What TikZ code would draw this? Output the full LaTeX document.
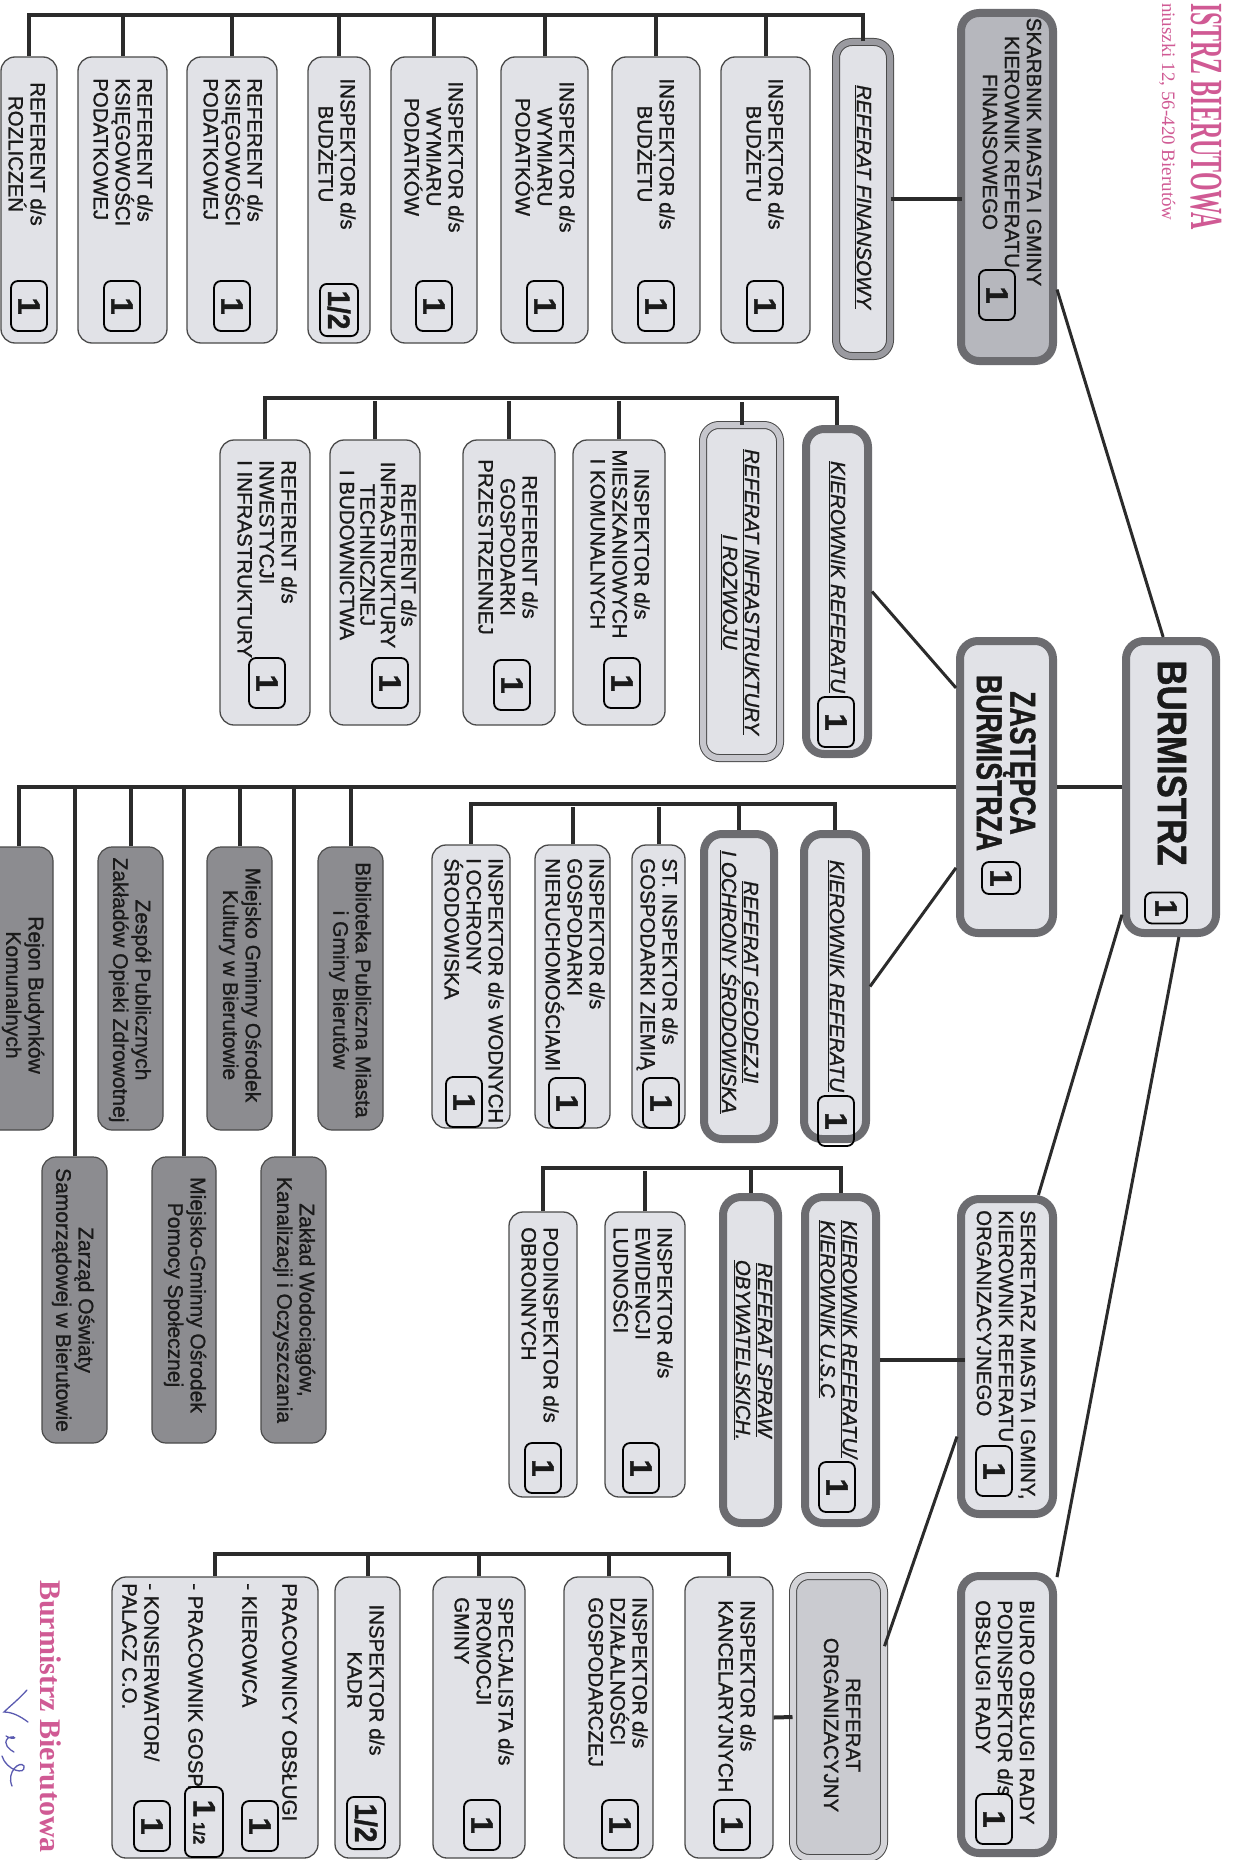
\documentclass[tikz,border=0pt]{standalone}
\usepackage{fontspec}
\setmainfont{Liberation Sans}[FakeBold=1.2]
\newfontfamily\pinkserif{Liberation Serif}
\definecolor{lightfill}{HTML}{E1E2E7}
\definecolor{midfill}{HTML}{B6B7BD}
\definecolor{bandc}{HTML}{6C6C70}
\definecolor{bordc}{HTML}{4A4A4A}
\definecolor{midband}{HTML}{9A9AA0}
\definecolor{lightband}{HTML}{C6C6CC}
\definecolor{orgband}{HTML}{D4D4D8}
\definecolor{orgfill}{HTML}{CACBD0}
\definecolor{grayfill}{HTML}{8C8C90}
\definecolor{linec}{HTML}{2B2B2B}
\definecolor{textc}{HTML}{1A1A1A}
\definecolor{pinkc}{HTML}{D05A94}
\definecolor{sigc}{HTML}{5A5AB0}
\newcommand\boxat[7]{%
  \pgfmathsetmacro\bxw{#6-#4-2*#3}%
  \pgfmathsetmacro\bxh{#7-#5-2*#3}%
  \pgfmathsetmacro\bxx{(#4+#6)/2}%
  \pgfmathsetmacro\bxy{(#5+#7)/2}%
  \node[#2, minimum width=\bxw pt, minimum height=\bxh pt] (#1) at (\bxx,\bxy) {};}
\newcommand\bdg[4][1]{\node[badge] (#2) at (#3,#4) {#1};}
\tikzset{
  lbox/.style={draw=bordc, line width=1.3pt, fill=lightfill, rounded corners=14pt, inner sep=0pt},
  tbox/.style={draw=bandc, line width=8pt, fill=lightfill, rounded corners=18pt, inner sep=0pt},
  dbox/.style={draw=bordc, line width=1pt, double=#1, double distance=6pt, fill=lightfill, rounded corners=16pt, inner sep=0pt},
  gbox/.style={draw=bordc, line width=1.2pt, fill=grayfill, rounded corners=14pt, inner sep=0pt},
  txt/.style={inner sep=0pt, text=textc, font=\fontsize{20.5}{22}\selectfont},
  itxt/.style={inner sep=0pt, text=textc, font=\fontsize{20.5}{22}\selectfont\itshape},
  gtxt/.style={inner sep=0pt, text=textc, align=center, font=\fontsize{21}{22.5}\selectfont},
  badge/.style={draw=black, line width=1.8pt, rounded corners=7pt, minimum width=50pt, minimum height=36pt, inner sep=0pt, text=textc, font=\fontsize{31}{31}\selectfont\bfseries},
  conn/.style={draw=linec, line width=4pt},
  diag/.style={draw=linec, line width=3pt},
}
\begin{document}
\begin{tikzpicture}[rotate=-90, transform shape, x=1pt, y=1pt]
\useasboundingbox (0,0) rectangle (1860,1234);
\fill[white] (0,0) rectangle (1860,1234);

% ---------- header and stamp ----------
\node[anchor=base west, inner sep=0, xscale=0.52, text=pinkc, font=\pinkserif\bfseries\fontsize{46}{46}\selectfont] (hdr) at (3,1191) {ISTRZ BIERUTOWA};
\node[anchor=base west, inner sep=0, text=pinkc, font=\pinkserif\fontsize{19}{19}\selectfont] (addr) at (3,1162) {niuszki 12, 56-420 Bierutów};
\node[anchor=base west, inner sep=0, text=pinkc, font=\pinkserif\bfseries\fontsize{30}{30}\selectfont] (stamp) at (1580,40) {Burmistrz Bierutowa};
\draw[sigc, line width=1.3pt, line cap=round] (1690,27) .. controls (1700,18) and (1706,10) .. (1712,4) .. controls (1712,12) and (1716,20) .. (1722,28);
\draw[sigc, line width=1.3pt, line cap=round] (1736,6) .. controls (1742,16) and (1734,18) .. (1738,8) .. controls (1744,2) and (1750,10) .. (1752,14);
\draw[sigc, line width=1.3pt, line cap=round] (1756,2) .. controls (1770,6) and (1776,26) .. (1766,24) .. controls (1760,20) and (1772,6) .. (1786,12);

% ---------- top level ----------
\boxat{burm}{tbox}{4}{637}{1122}{937}{1220}
\node[inner sep=0, text=textc, xscale=0.85, font=\fontsize{41}{41}\selectfont\bfseries] (burm-t) at (763,1172) {BURMISTRZ};
\node[badge, minimum width=31pt, minimum height=42pt] (burm-n) at (908,1166) {1};

\boxat{zast}{tbox}{4}{637}{956}{937}{1057}
\node[inner sep=0, text=textc, align=center, xscale=0.74, font=\fontsize{36}{28}\selectfont\bfseries] (zast-t) at (763,1006) {ZASTĘPCA\\BURMISTRZA};
\node[badge, minimum width=32pt, minimum height=38pt] (zast-n) at (878,1001) {1};

% ---------- finance ----------
\boxat{skarb}{tbox, fill=midfill}{4}{9}{957}{365}{1057}
\node[txt, align=center] (skarb-t) at (152,1012) {SKARBNIK MIASTA I GMINY\\KIEROWNIK REFERATU\\FINANSOWEGO};
\bdg{skarb-n}{295}{997}

\boxat{reffin}{dbox=midband}{0}{42}{836}{356}{890}
\node[itxt] (reffin-t) at (197,863) {\underline{REFERAT FINANSOWY}};

\boxat{roz}{lbox}{0}{57}{1}{343}{57}
\node[txt, align=center] (roz-t) at (154,27) {REFERENT d/s\\ROZLICZEŃ};
\bdg{roz-n}{306}{29}
\boxat{ksi1}{lbox}{0}{57}{78}{343}{167}
\node[txt, align=left, anchor=west] (ksi1-t) at (78,123) {REFERENT d/s\\KSIĘGOWOŚCI\\PODATKOWEJ};
\bdg{ksi1-n}{306}{122}
\boxat{ksi2}{lbox}{0}{57}{187}{343}{277}
\node[txt, align=left, anchor=west] (ksi2-t) at (78,233) {REFERENT d/s\\KSIĘGOWOŚCI\\PODATKOWEJ};
\bdg{ksi2-n}{306}{232}
\boxat{bud1}{lbox}{0}{57}{308}{343}{370}
\node[txt, align=center] (bud1-t) at (154,337) {INSPEKTOR d/s\\BUDŻETU};
\node[badge, minimum width=58pt, minimum height=38pt, xscale=0.9] (bud1-n) at (310,339) {1/2};
\boxat{wym1}{lbox}{0}{57}{391}{343}{477}
\node[txt, align=center] (wym1-t) at (157,434) {INSPEKTOR d/s\\WYMIARU\\PODATKÓW};
\bdg{wym1-n}{306}{434}
\boxat{wym2}{lbox}{0}{57}{501}{343}{588}
\node[txt, align=center] (wym2-t) at (157,545) {INSPEKTOR d/s\\WYMIARU\\PODATKÓW};
\bdg{wym2-n}{306}{545}
\boxat{bud2}{lbox}{0}{57}{612}{343}{700}
\node[txt, align=center] (bud2-t) at (154,656) {INSPEKTOR d/s\\BUDŻETU};
\bdg{bud2-n}{306}{656}
\boxat{bud3}{lbox}{0}{57}{721}{343}{810}
\node[txt, align=center] (bud3-t) at (154,765) {INSPEKTOR d/s\\BUDŻETU};
\bdg{bud3-n}{306}{765}

% ---------- infrastructure ----------
\boxat{kirinf}{tbox}{4}{425}{802}{758}{872}
\node[itxt] (kirinf-t) at (577,837) {\underline{KIEROWNIK REFERATU}};
\bdg{kirinf-n}{722}{836}
\boxat{refinfra}{dbox=lightband}{0}{425}{703}{758}{780}
\node[itxt, align=center] (refinfra-t) at (592,740) {\underline{REFERAT INFRASTRUKTURY}\\\underline{I ROZWOJU}};
\boxat{mie}{lbox}{0}{440}{573}{725}{665}
\node[txt, align=center] (mie-t) at (544,620) {INSPEKTOR d/s\\MIESZKANIOWYCH\\I KOMUNALNYCH};
\bdg{mie-n}{683}{622}
\boxat{prz}{lbox}{0}{440}{463}{725}{555}
\node[txt, align=center] (prz-t) at (547,508) {REFERENT d/s\\GOSPODARKI\\PRZESTRZENNEJ};
\bdg{prz-n}{685}{512}
\boxat{bdw}{lbox}{0}{440}{330}{725}{420}
\node[txt, align=center, font=\fontsize{20.5}{20.5}\selectfont] (bdw-t) at (555,378) {REFERENT d/s\\INFRASTRUKTURY\\TECHNICZNEJ\\I BUDOWNICTWA};
\bdg{bdw-n}{683}{390}
\boxat{inw}{lbox}{0}{440}{220}{725}{310}
\node[txt, align=left, anchor=west] (inw-t) at (460,267) {REFERENT d/s\\INWESTYCJI\\I INFRASTRUKTURY};
\bdg{inw-n}{683}{267}

% ---------- geodesy ----------
\boxat{kirgeo}{tbox}{4}{830}{800}{1143}{870}
\node[itxt] (kirgeo-t) at (976,836) {\underline{KIEROWNIK REFERATU}};
\bdg{kirgeo-n}{1121}{836}
\boxat{refgeo}{tbox}{4}{830}{700}{1143}{778}
\node[itxt, align=center] (refgeo-t) at (982,739) {\underline{REFERAT GEODEZJI}\\\underline{I OCHRONY ŚRODOWISKA}};
\boxat{zie}{lbox}{0}{845}{632}{1128}{685}
\node[txt, align=left, anchor=west] (zie-t) at (858,657) {ST. INSPEKTOR d/s\\GOSPODARKI ZIEMIĄ};
\bdg{zie-n}{1103}{661}
\boxat{nie}{lbox}{0}{845}{535}{1128}{610}
\node[txt, align=left, anchor=west] (nie-t) at (858,575) {INSPEKTOR d/s\\GOSPODARKI\\NIERUCHOMOŚCIAMI};
\bdg{nie-n}{1103}{567}
\boxat{wod}{lbox}{0}{845}{432}{1128}{510}
\node[txt, align=left, anchor=west] (wod-t) at (858,474) {INSPEKTOR d/s WODNYCH\\I OCHRONY\\ŚRODOWISKA};
\bdg{wod-n}{1102}{464}

% ---------- institutions ----------
\boxat{bib}{gbox}{0}{847}{318}{1130}{383}
\node[gtxt] (bib-t) at (990,350) {Biblioteka Publiczna Miasta\\i Gminy Bierutów};
\boxat{kul}{gbox}{0}{847}{207}{1130}{272}
\node[gtxt] (kul-t) at (985,240) {Miejsko Gminny Ośrodek\\Kultury w Bierutowie};
\boxat{zes}{gbox}{0}{847}{98}{1130}{163}
\node[gtxt] (zes-t) at (990,130) {Zespół Publicznych\\Zakładów Opieki Zdrowotnej};
\boxat{rej}{gbox}{0}{847}{-15}{1130}{53}
\node[gtxt] (rej-t) at (995,23) {Rejon Budynków\\Komunalnych};
\boxat{zak}{gbox}{0}{1157}{261}{1443}{326}
\node[gtxt] (zak-t) at (1300,294) {Zakład Wodociągów,\\Kanalizacji i Oczyszczania};
\boxat{pom}{gbox}{0}{1157}{152}{1443}{216}
\node[gtxt] (pom-t) at (1295,185) {Miejsko-Gminny Ośrodek\\Pomocy Społecznej};
\boxat{zar}{gbox}{0}{1157}{42}{1443}{107}
\node[gtxt] (zar-t) at (1300,73) {Zarząd Oświaty\\Samorządowej w Bierutowie};

% ---------- secretary ----------
\boxat{sek}{tbox}{4}{1195}{957}{1518}{1057}
\node[txt, align=left, anchor=west] (sek-t) at (1210,1006) {SEKRETARZ MIASTA I GMINY,\\KIEROWNIK REFERATU\\ORGANIZACYJNEGO};
\bdg{sek-n}{1471}{994}
\boxat{usc}{tbox}{4}{1193}{801}{1527}{880}
\node[itxt, align=left, anchor=west] (usc-t) at (1220,838) {\underline{KIEROWNIK REFERATU/}\\\underline{KIEROWNIK U.S.C}};
\bdg{usc-n}{1487}{837}
\boxat{spraw}{tbox}{4}{1193}{719}{1527}{782}
\node[itxt, align=center] (spraw-t) at (1350,753) {\underline{REFERAT SPRAW}\\\underline{OBYWATELSKICH.}};
\boxat{ewi}{lbox}{0}{1212}{605}{1497}{685}
\node[txt, align=left, anchor=west] (ewi-t) at (1227,643) {INSPEKTOR d/s\\EWIDENCJI\\LUDNOŚCI};
\bdg{ewi-n}{1468}{641}
\boxat{obr}{lbox}{0}{1212}{509}{1497}{577}
\node[txt, align=left, anchor=west] (obr-t) at (1227,540) {PODINSPEKTOR d/s\\OBRONNYCH};
\bdg{obr-n}{1468}{543}

% ---------- council office ----------
\boxat{biuro}{tbox}{4}{1572}{957}{1857}{1057}
\node[txt, align=left, anchor=west] (biuro-t) at (1600,1005) {BIURO OBSŁUGI RADY\\PODINSPEKTOR d/s\\OBSŁUGI RADY};
\bdg{biuro-n}{1819}{994}

% ---------- organisation ----------
\boxat{reforg}{dbox=orgband, fill=orgfill}{0}{1576}{793}{1858}{884}
\node[txt, align=center] (reforg-t) at (1725,842) {REFERAT\\ORGANIZACYJNY};
\boxat{kanc}{lbox}{0}{1577}{685}{1858}{773}
\node[txt, align=left, anchor=west] (kanc-t) at (1600,737) {INSPEKTOR d/s\\KANCELARYJNYCH};
\bdg{kanc-n}{1825}{732}
\boxat{gosp}{lbox}{0}{1577}{564}{1858}{653}
\node[txt, align=left, anchor=west] (gosp-t) at (1597,618) {INSPEKTOR d/s\\DZIAŁALNOŚCI\\GOSPODARCZEJ};
\bdg{gosp-n}{1825}{620}
\boxat{prom}{lbox}{0}{1577}{433}{1858}{525}
\node[txt, align=left, anchor=west] (prom-t) at (1597,484) {SPECJALISTA d/s\\PROMOCJI\\GMINY};
\bdg{prom-n}{1825}{482}
\boxat{kadr}{lbox}{0}{1577}{335}{1858}{400}
\node[txt, align=center] (kadr-t) at (1680,366) {INSPEKTOR d/s\\KADR};
\node[badge, minimum width=58pt, minimum height=38pt, xscale=0.9] (kadr-n) at (1823,366) {1/2};
\boxat{prac}{lbox}{0}{1577}{112}{1858}{318}
\node[txt, align=left, anchor=north west] (prac-t) at (1583,297) {PRACOWNICY OBSŁUGI\\[18pt]- KIEROWCA\\[32pt]- PRACOWNIK GOSP.\\[22pt]- KONSERWATOR/\\PALACZ C.O.};
\bdg{prac-n1}{1826}{260}
\node[badge, minimum width=70pt, minimum height=38pt] (prac-n2) at (1822,204) {1\,{\fontsize{16}{16}\selectfont 1/2}};
\bdg{prac-n3}{1826}{152}

% ---------- connectors ----------
\draw[conn] (burm.south) -- (zast.north);
\draw[diag] (burm.183) -- (skarb.26);
\draw[diag] (burm.339) -- (sek.169);
\draw[diag] (burm.3) -- (biuro.160);
\draw[diag] (zast.207) -- (kirinf.north);
\draw[diag] (zast.328) -- (kirgeo.north);
\draw[diag] (sek.328) -- (reforg.147);

\draw[conn] (reffin.north) -- ++(0,71);
\draw[conn] (reffin.west) -- ++(-26,0) |- (roz.west);
\foreach \n in {ksi1,ksi2,bud1,wym1,wym2,bud2,bud3} \draw[conn] (\n.west) -- ++(-41,0);

\draw[conn] (kirinf.west) -- ++(-27,0) |- (inw.west);
\draw[conn] (refinfra.west) -- ++(-23,0);
\foreach \n in {bdw,prz,mie} \draw[conn] (\n.west) -- ++(-38,0);

\draw[conn] (kirgeo.west) -- ++(-26,0) |- (wod.west);
\draw[conn] (refgeo.west) -- ++(-26,0);
\foreach \n in {nie,zie} \draw[conn] (\n.west) -- ++(-37,0);

\draw[conn] (zast.south) |- (rej.west);
\foreach \n in {bib,kul,zes} \draw[conn] (\n.west) -- ++(-60,0);
\foreach \n in {zak,pom,zar} \draw[conn] (\n.west) -- ++(-370,0);

\draw[conn] (usc.north) -- ++(0,85);
\draw[conn] (usc.west) -- ++(-25,0) |- (obr.west);
\draw[conn] (spraw.west) -- ++(-25,0);
\draw[conn] (ewi.west) -- ++(-40,0);

\draw[conn] (reforg.south) -- (kanc.north);
\draw[conn] (kanc.west) -- ++(-22,0) |- (prac.west);
\foreach \n in {gosp,prom,kadr} \draw[conn] (\n.west) -- ++(-22,0);
\end{tikzpicture}
\end{document}
